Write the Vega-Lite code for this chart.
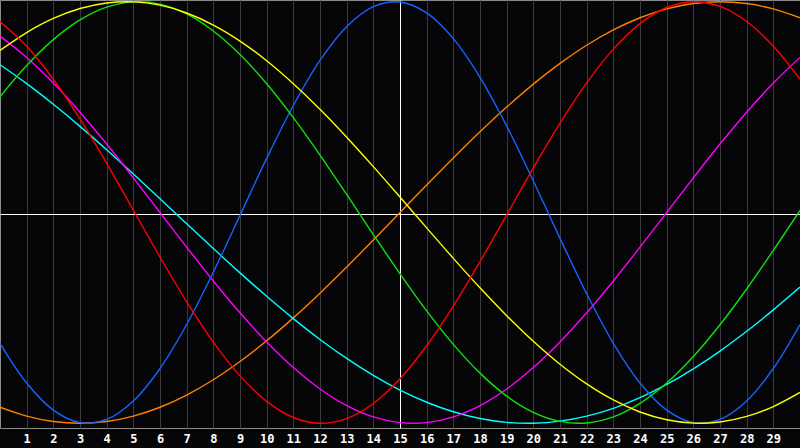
{
  "$schema": "https://vega.github.io/schema/vega-lite/v6.json",
  "description": "Biorhythm style chart: seven cycles over a 30 day month",
  "width": 800,
  "height": 428,
  "autosize": "none",
  "padding": {"left": 0, "top": 0, "right": 0, "bottom": 20},
  "background": "#060609",
  "data": {
    "values": [
      {"day": 0, "physical": -0.6206, "emotional": 0.9058, "intellectual": 0.5487, "aesthetic": 0.7686, "c48": -0.9239, "intuitive": 0.8371, "spiritual": 0.7008},
      {"day": 1, "physical": -0.809, "emotional": 0.7888, "intellectual": 0.6969, "aesthetic": 0.8536, "c48": -0.9659, "intuitive": 0.7357, "spiritual": 0.6115},
      {"day": 2, "physical": -0.9376, "emotional": 0.6322, "intellectual": 0.82, "aesthetic": 0.9204, "c48": -0.9914, "intuitive": 0.6142, "spiritual": 0.5136},
      {"day": 3, "physical": -0.9967, "emotional": 0.444, "intellectual": 0.9135, "aesthetic": 0.9675, "c48": -1, "intuitive": 0.4759, "spiritual": 0.4085},
      {"day": 4, "physical": -0.9818, "emotional": 0.2334, "intellectual": 0.974, "aesthetic": 0.994, "c48": -0.9914, "intuitive": 0.3247, "spiritual": 0.2977},
      {"day": 5, "physical": -0.8941, "emotional": 0.0112, "intellectual": 0.9993, "aesthetic": 0.9993, "c48": -0.9659, "intuitive": 0.1645, "spiritual": 0.1827},
      {"day": 6, "physical": -0.74, "emotional": -0.2115, "intellectual": 0.9884, "aesthetic": 0.9834, "c48": -0.9239, "intuitive": 0, "spiritual": 0.0652},
      {"day": 7, "physical": -0.5313, "emotional": -0.4237, "intellectual": 0.9418, "aesthetic": 0.9464, "c48": -0.866, "intuitive": -0.1645, "spiritual": -0.0534},
      {"day": 8, "physical": -0.2828, "emotional": -0.6147, "intellectual": 0.8612, "aesthetic": 0.8893, "c48": -0.7934, "intuitive": -0.3247, "spiritual": -0.1711},
      {"day": 9, "physical": -0.0136, "emotional": -0.7749, "intellectual": 0.7495, "aesthetic": 0.8133, "c48": -0.7071, "intuitive": -0.4759, "spiritual": -0.2864},
      {"day": 10, "physical": 0.2566, "emotional": -0.896, "intellectual": 0.6107, "aesthetic": 0.72, "c48": -0.6088, "intuitive": -0.6142, "spiritual": -0.3976},
      {"day": 11, "physical": 0.5076, "emotional": -0.9724, "intellectual": 0.4498, "aesthetic": 0.6111, "c48": -0.5, "intuitive": -0.7357, "spiritual": -0.5035},
      {"day": 12, "physical": 0.7214, "emotional": -0.9999, "intellectual": 0.2726, "aesthetic": 0.4894, "c48": -0.3827, "intuitive": -0.8371, "spiritual": -0.6022},
      {"day": 13, "physical": 0.8815, "emotional": -0.9774, "intellectual": 0.0856, "aesthetic": 0.3572, "c48": -0.2588, "intuitive": -0.9158, "spiritual": -0.6923},
      {"day": 14, "physical": 0.9762, "emotional": -0.9058, "intellectual": -0.1045, "aesthetic": 0.2175, "c48": -0.1305, "intuitive": -0.9694, "spiritual": -0.7727},
      {"day": 15, "physical": 0.9985, "emotional": -0.7888, "intellectual": -0.2908, "aesthetic": 0.0731, "c48": 0, "intuitive": -0.9966, "spiritual": -0.8425},
      {"day": 16, "physical": 0.9468, "emotional": -0.6322, "intellectual": -0.4667, "aesthetic": -0.0731, "c48": 0.1305, "intuitive": -0.9966, "spiritual": -0.9002},
      {"day": 17, "physical": 0.8248, "emotional": -0.444, "intellectual": -0.6255, "aesthetic": -0.2175, "c48": 0.2588, "intuitive": -0.9694, "spiritual": -0.9454},
      {"day": 18, "physical": 0.6415, "emotional": -0.2334, "intellectual": -0.762, "aesthetic": -0.3572, "c48": 0.3827, "intuitive": -0.9158, "spiritual": -0.9773},
      {"day": 19, "physical": 0.4109, "emotional": -0.0112, "intellectual": -0.8708, "aesthetic": -0.4894, "c48": 0.5, "intuitive": -0.8371, "spiritual": -0.9955},
      {"day": 20, "physical": 0.1497, "emotional": 0.2115, "intellectual": -0.948, "aesthetic": -0.6111, "c48": 0.6088, "intuitive": -0.7357, "spiritual": -0.9997},
      {"day": 21, "physical": -0.1226, "emotional": 0.4237, "intellectual": -0.9911, "aesthetic": -0.72, "c48": 0.7071, "intuitive": -0.6142, "spiritual": -0.9899},
      {"day": 22, "physical": -0.3857, "emotional": 0.6147, "intellectual": -0.9984, "aesthetic": -0.8133, "c48": 0.7934, "intuitive": -0.4759, "spiritual": -0.9662},
      {"day": 23, "physical": -0.6205, "emotional": 0.7749, "intellectual": -0.9695, "aesthetic": -0.8893, "c48": 0.866, "intuitive": -0.3247, "spiritual": -0.9289},
      {"day": 24, "physical": -0.809, "emotional": 0.896, "intellectual": -0.9056, "aesthetic": -0.9464, "c48": 0.9239, "intuitive": -0.1645, "spiritual": -0.8786},
      {"day": 25, "physical": -0.9376, "emotional": 0.9724, "intellectual": -0.809, "aesthetic": -0.9834, "c48": 0.9659, "intuitive": 0, "spiritual": -0.8159},
      {"day": 26, "physical": -0.9966, "emotional": 0.9999, "intellectual": -0.6833, "aesthetic": -0.9993, "c48": 0.9914, "intuitive": 0.1645, "spiritual": -0.7417},
      {"day": 27, "physical": -0.9818, "emotional": 0.9774, "intellectual": -0.5327, "aesthetic": -0.994, "c48": 1, "intuitive": 0.3247, "spiritual": -0.6574},
      {"day": 28, "physical": -0.8941, "emotional": 0.9058, "intellectual": -0.3628, "aesthetic": -0.9675, "c48": 0.9914, "intuitive": 0.4759, "spiritual": -0.5636},
      {"day": 29, "physical": -0.74, "emotional": 0.7888, "intellectual": -0.1798, "aesthetic": -0.9204, "c48": 0.9659, "intuitive": 0.6142, "spiritual": -0.4619},
      {"day": 30, "physical": -0.5314, "emotional": 0.6322, "intellectual": 0.0096, "aesthetic": -0.8536, "c48": 0.9239, "intuitive": 0.7357, "spiritual": -0.3538}
    ]
  },
  "transform": [
    {"fold": ["c48", "spiritual", "intuitive", "physical", "intellectual", "aesthetic", "emotional"], "as": ["cycle", "value"]}
  ],
  "mark": {"type": "line", "strokeWidth": 1.4, "interpolate": "catmull-rom"},
  "encoding": {
    "x": {
      "field": "day",
      "type": "quantitative",
      "scale": {"domain": [0, 30], "nice": false, "zero": false},
      "axis": {
        "values": [1, 2, 3, 4, 5, 6, 7, 8, 9, 10, 11, 12, 13, 14, 15, 16, 17, 18, 19, 20, 21, 22, 23, 24, 25, 26, 27, 28, 29],
        "title": null,
        "grid": true,
        "gridColor": {"condition": {"test": "datum.value === 15", "value": "#ffffff"}, "value": "#3a3a3a"},
        "gridOpacity": 1,
        "domain": false,
        "ticks": false,
        "labelColor": "#ffffff",
        "labelFont": "DejaVu Sans Mono",
        "labelFontWeight": "bold",
        "labelFontSize": 12,
        "labelPadding": 5,
        "labelDx": -1
      }
    },
    "y": {
      "field": "value",
      "type": "quantitative",
      "scale": {"domain": [-1.0223, 1.008], "nice": false, "zero": false},
      "axis": {
        "values": [-0.007],
        "title": null,
        "grid": true,
        "gridColor": "#ffffff",
        "gridOpacity": 1,
        "domain": false,
        "ticks": false,
        "labels": false
      }
    },
    "color": {
      "field": "cycle",
      "type": "nominal",
      "scale": {
        "domain": ["c48", "spiritual", "intuitive", "physical", "intellectual", "aesthetic", "emotional"],
        "range": ["#ff8000", "#00ffff", "#ff00ff", "#1464ff", "#10e010", "#ffff00", "#ff0000"]
      },
      "legend": null
    }
  },
  "config": {
    "view": {"stroke": "#8c8c8c", "strokeWidth": 1}
  }
}
